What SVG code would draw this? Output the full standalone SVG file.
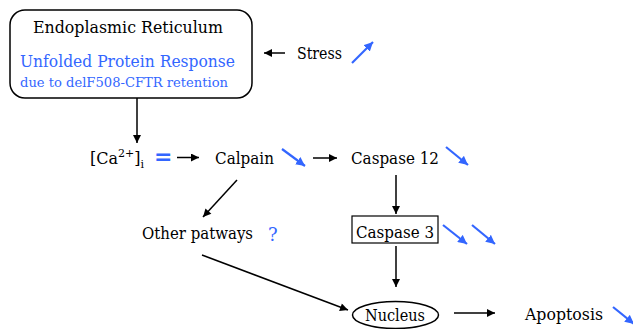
<svg xmlns="http://www.w3.org/2000/svg" width="633" height="329" viewBox="0 0 633 329">
<defs>
<marker id="ah" viewBox="0 0 10 10" refX="10" refY="5" markerWidth="9" markerHeight="8" markerUnits="userSpaceOnUse" orient="auto"><path d="M0,0 L10,5 L0,10 z" fill="#000"/></marker>
<marker id="bh" viewBox="0 0 10 10" refX="10" refY="5" markerWidth="9" markerHeight="9" markerUnits="userSpaceOnUse" orient="auto"><path d="M0,0 L10,5 L0,10 z" fill="#3366ff"/></marker>
</defs>
<style>
text{font-family:"DejaVu Serif","Liberation Serif",serif;fill:#000}
.t{font-size:16px}
.b{fill:#3366ff}
.c{stroke:#000;stroke-width:1.5;fill:none;marker-end:url(#ah)}
.u{stroke:#3366ff;stroke-width:2.2;fill:none;marker-end:url(#bh)}
</style>
<rect width="633" height="329" fill="#fff"/>
<g id="er">
<rect x="10" y="10" width="242" height="88" rx="15" ry="15" fill="#fff" stroke="#000" stroke-width="1.5"/>
<text class="t" x="33" y="33" textLength="190" lengthAdjust="spacingAndGlyphs">Endoplasmic Reticulum</text>
<text class="t b" x="20" y="67" textLength="215" lengthAdjust="spacingAndGlyphs">Unfolded Protein Response</text>
<text class="b" x="20" y="87" font-size="12" textLength="208" lengthAdjust="spacingAndGlyphs">due to delF508-CFTR retention</text>
</g>
<g id="stress">
<text class="t" x="297" y="59" textLength="45" lengthAdjust="spacingAndGlyphs">Stress</text>
</g>
<g id="ca">
<text class="t" x="90" y="164">[Ca<tspan font-size="11" dy="-7">2+</tspan><tspan dy="7">]</tspan><tspan font-size="11" dy="4">i</tspan></text>
<text class="b" x="154" y="164" font-size="22" font-weight="bold" font-family="Liberation Sans, sans-serif">=</text>
</g>
<g id="calpain">
<text class="t" x="215" y="164" textLength="59" lengthAdjust="spacingAndGlyphs">Calpain</text>
</g>
<g id="casp12">
<text class="t" x="351" y="164" textLength="88" lengthAdjust="spacingAndGlyphs">Caspase 12</text>
</g>
<g id="other">
<text class="t" x="142" y="239" textLength="111" lengthAdjust="spacingAndGlyphs">Other patways</text>
<text class="b" x="268" y="241" font-size="18">?</text>
</g>
<g id="casp3">
<rect x="352" y="216" width="86" height="27" fill="#fff" stroke="#000" stroke-width="1.2"/>
<text class="t" x="356" y="238" textLength="78" lengthAdjust="spacingAndGlyphs">Caspase 3</text>
</g>
<g id="nucleus">
<ellipse cx="395.5" cy="315" rx="43" ry="13.5" fill="#fff" stroke="#000" stroke-width="1.5"/>
<text class="t" x="365" y="321" textLength="60" lengthAdjust="spacingAndGlyphs">Nucleus</text>
</g>
<g id="apoptosis">
<text class="t" x="525" y="320" textLength="78" lengthAdjust="spacingAndGlyphs">Apoptosis</text>
</g>
<g id="connectors">
<line class="c" x1="285" y1="53" x2="264" y2="53"/>
<line class="c" x1="137" y1="98" x2="137" y2="143"/>
<line class="c" x1="177" y1="157.5" x2="199" y2="157.5"/>
<line class="c" x1="313" y1="158" x2="337" y2="158"/>
<line class="c" x1="237" y1="180" x2="203" y2="217"/>
<line class="c" x1="396" y1="175" x2="396" y2="214"/>
<line class="c" x1="396" y1="246" x2="396" y2="287"/>
<line class="c" x1="202" y1="255" x2="348" y2="310"/>
<line class="c" x1="454" y1="313" x2="495" y2="313"/>
<line class="u" x1="352" y1="63" x2="373" y2="42"/>
<line class="u" x1="282" y1="149" x2="305" y2="166"/>
<line class="u" x1="446" y1="147" x2="468" y2="165"/>
<line class="u" x1="443" y1="225" x2="467" y2="244"/>
<line class="u" x1="472" y1="225" x2="495" y2="244"/>
<line class="u" x1="613" y1="307" x2="634" y2="324"/>
</g>
</svg>
